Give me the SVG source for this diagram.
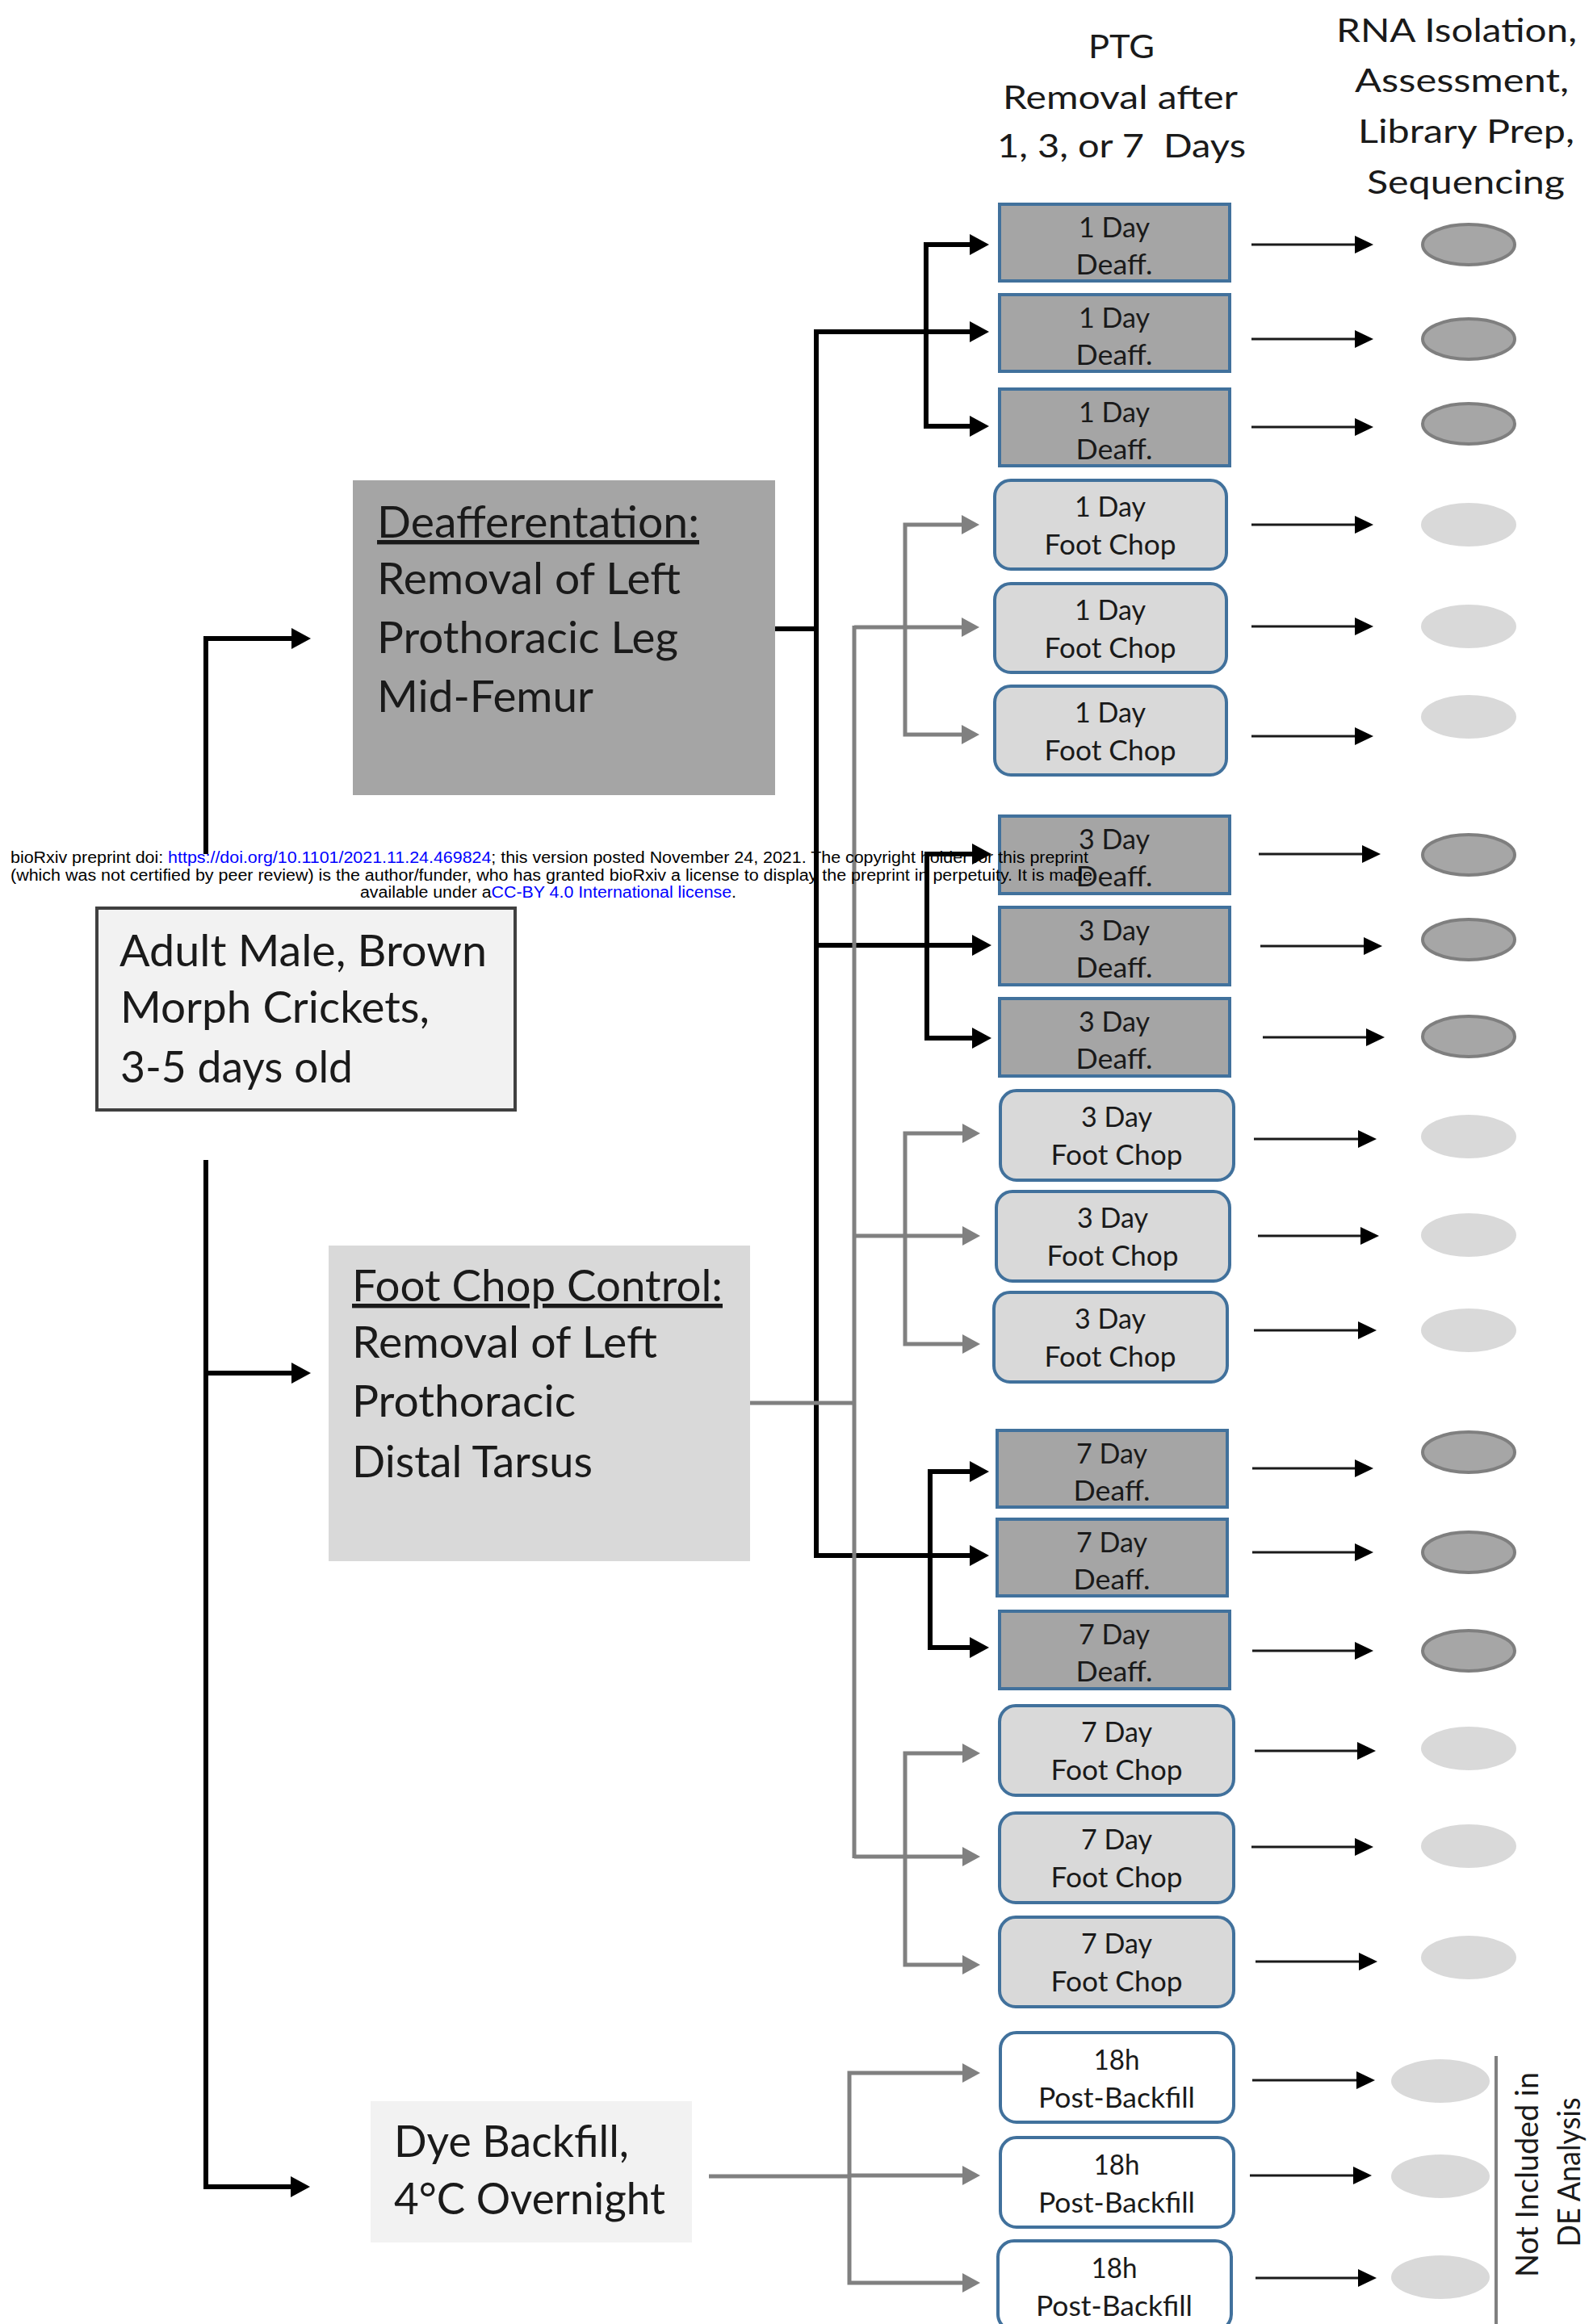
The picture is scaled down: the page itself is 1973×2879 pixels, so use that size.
<svg xmlns="http://www.w3.org/2000/svg" width="1973" height="2879" viewBox="0 0 1973 2879">
<style>
.t{font-family:Lato,"Open Sans","Liberation Sans",sans-serif;fill:#1a1a1a}
.big{font-size:54px}
.hdr{font-size:40px}
.bx{font-size:34px;text-anchor:middle}
.nt{font-size:39px;text-anchor:middle}
.deaff{fill:#a5a5a5;stroke:#41719c;stroke-width:4}
.fc{fill:#d9d9d9;stroke:#41719c;stroke-width:4}
.bf{fill:#ffffff;stroke:#41719c;stroke-width:4}
.ed{fill:#a6a6a6;stroke:#7f7f7f;stroke-width:4}
.el{fill:#d9d9d9}
.k{stroke:#000;stroke-width:6;fill:none}
.g{stroke:#808080;stroke-width:5;fill:none}
.th{stroke:#1a1a1a;stroke-width:3;fill:none}
.wm{font-family:"Liberation Sans",Arial,sans-serif;font-size:20px;fill:#000}
.lnk{fill:#0000ff}
</style>
<defs>
<marker id="ak" markerUnits="userSpaceOnUse" markerWidth="24" markerHeight="26" refX="0" refY="13" orient="auto-start-reverse"><path d="M0,0 L24,13 L0,26 Z" fill="#000"/></marker>
<marker id="ag" markerUnits="userSpaceOnUse" markerWidth="22" markerHeight="24" refX="0" refY="12" orient="auto-start-reverse"><path d="M0,0 L22,12 L0,24 Z" fill="#808080"/></marker>
<marker id="at" markerUnits="userSpaceOnUse" markerWidth="23" markerHeight="22" refX="0" refY="11" orient="auto"><path d="M0,0 L23,11 L0,22 Z" fill="#000"/></marker>
</defs>
<rect width="1973" height="2879" fill="#fff"/>

<g id="header">
<text class="t hdr" x="1348" y="72" textLength="82" lengthAdjust="spacingAndGlyphs">PTG</text>
<text class="t hdr" x="1242" y="135" textLength="291" lengthAdjust="spacingAndGlyphs">Removal after</text>
<text class="t hdr" x="1235" y="195" xml:space="preserve" textLength="308" lengthAdjust="spacingAndGlyphs">1, 3, or 7  Days</text>
<text class="t hdr" x="1655" y="52" textLength="298" lengthAdjust="spacingAndGlyphs">RNA Isolation,</text>
<text class="t hdr" x="1678" y="114" textLength="265" lengthAdjust="spacingAndGlyphs">Assessment,</text>
<text class="t hdr" x="1682" y="177" textLength="268" lengthAdjust="spacingAndGlyphs">Library Prep,</text>
<text class="t hdr" x="1693" y="240" textLength="245" lengthAdjust="spacingAndGlyphs">Sequencing</text>
</g>

<g id="adult">
<rect x="120" y="1125" width="518" height="250" fill="#f2f2f2" stroke="#404040" stroke-width="4"/>
<text class="t big" x="148" y="1197" textLength="455" lengthAdjust="spacingAndGlyphs">Adult Male, Brown</text>
<text class="t big" x="149" y="1267" textLength="383" lengthAdjust="spacingAndGlyphs">Morph Crickets,</text>
<text class="t big" x="149" y="1341" textLength="288" lengthAdjust="spacingAndGlyphs">3-5 days old</text>
</g>

<g id="deafferentation">
<rect x="437" y="595" width="523" height="390" fill="#a5a5a5"/>
<text class="t big" x="467" y="666" text-decoration="underline" textLength="399" lengthAdjust="spacingAndGlyphs">Deafferentation:</text>
<text class="t big" x="467" y="736" textLength="376" lengthAdjust="spacingAndGlyphs">Removal of Left</text>
<text class="t big" x="467" y="809" textLength="373" lengthAdjust="spacingAndGlyphs">Prothoracic Leg</text>
<text class="t big" x="467" y="882" textLength="268" lengthAdjust="spacingAndGlyphs">Mid-Femur</text>
</g>

<g id="footchop-control">
<rect x="407" y="1543" width="522" height="391" fill="#d9d9d9"/>
<text class="t big" x="436" y="1612" text-decoration="underline" textLength="459" lengthAdjust="spacingAndGlyphs">Foot Chop Control:</text>
<text class="t big" x="436" y="1682" textLength="378" lengthAdjust="spacingAndGlyphs">Removal of Left</text>
<text class="t big" x="436" y="1755" textLength="277" lengthAdjust="spacingAndGlyphs">Prothoracic</text>
<text class="t big" x="436" y="1830" textLength="298" lengthAdjust="spacingAndGlyphs">Distal Tarsus</text>
</g>

<g id="dye-backfill">
<rect x="459" y="2603" width="398" height="175" fill="#f2f2f2"/>
<text class="t big" x="488" y="2672" textLength="291" lengthAdjust="spacingAndGlyphs">Dye Backfill,</text>
<text class="t big" x="488" y="2743" textLength="336" lengthAdjust="spacingAndGlyphs">4°C Overnight</text>
</g>

<g id="d1a"><rect class="deaff" x="1238" y="253" width="285" height="95"/><text class="t bx" x="1380" y="294" textLength="88" lengthAdjust="spacingAndGlyphs">1 Day</text><text class="t bx" x="1380" y="340" textLength="95" lengthAdjust="spacingAndGlyphs">Deaff.</text></g>
<g id="d1b"><rect class="deaff" x="1238" y="365" width="285" height="95"/><text class="t bx" x="1380" y="406" textLength="88" lengthAdjust="spacingAndGlyphs">1 Day</text><text class="t bx" x="1380" y="452" textLength="95" lengthAdjust="spacingAndGlyphs">Deaff.</text></g>
<g id="d1c"><rect class="deaff" x="1238" y="482" width="285" height="95"/><text class="t bx" x="1380" y="523" textLength="88" lengthAdjust="spacingAndGlyphs">1 Day</text><text class="t bx" x="1380" y="569" textLength="95" lengthAdjust="spacingAndGlyphs">Deaff.</text></g>

<g id="f1a"><rect class="fc" x="1232" y="595" width="287" height="110" rx="20"/><text class="t bx" x="1375" y="640" textLength="88" lengthAdjust="spacingAndGlyphs">1 Day</text><text class="t bx" x="1375" y="687" textLength="163" lengthAdjust="spacingAndGlyphs">Foot Chop</text></g>
<g id="f1b"><rect class="fc" x="1232" y="723" width="287" height="110" rx="20"/><text class="t bx" x="1375" y="768" textLength="88" lengthAdjust="spacingAndGlyphs">1 Day</text><text class="t bx" x="1375" y="815" textLength="163" lengthAdjust="spacingAndGlyphs">Foot Chop</text></g>
<g id="f1c"><rect class="fc" x="1232" y="850" width="287" height="110" rx="20"/><text class="t bx" x="1375" y="895" textLength="88" lengthAdjust="spacingAndGlyphs">1 Day</text><text class="t bx" x="1375" y="942" textLength="163" lengthAdjust="spacingAndGlyphs">Foot Chop</text></g>

<g id="d3a"><rect class="deaff" x="1238" y="1011" width="285" height="96"/><text class="t bx" x="1380" y="1052" textLength="88" lengthAdjust="spacingAndGlyphs">3 Day</text><text class="t bx" x="1380" y="1098" textLength="95" lengthAdjust="spacingAndGlyphs">Deaff.</text></g>
<g id="d3b"><rect class="deaff" x="1238" y="1124" width="285" height="96"/><text class="t bx" x="1380" y="1165" textLength="88" lengthAdjust="spacingAndGlyphs">3 Day</text><text class="t bx" x="1380" y="1211" textLength="95" lengthAdjust="spacingAndGlyphs">Deaff.</text></g>
<g id="d3c"><rect class="deaff" x="1238" y="1237" width="285" height="96"/><text class="t bx" x="1380" y="1278" textLength="88" lengthAdjust="spacingAndGlyphs">3 Day</text><text class="t bx" x="1380" y="1324" textLength="95" lengthAdjust="spacingAndGlyphs">Deaff.</text></g>

<g id="f3a"><rect class="fc" x="1239" y="1351" width="289" height="111" rx="20"/><text class="t bx" x="1383" y="1396" textLength="88" lengthAdjust="spacingAndGlyphs">3 Day</text><text class="t bx" x="1383" y="1443" textLength="163" lengthAdjust="spacingAndGlyphs">Foot Chop</text></g>
<g id="f3b"><rect class="fc" x="1234" y="1476" width="289" height="111" rx="20"/><text class="t bx" x="1378" y="1521" textLength="88" lengthAdjust="spacingAndGlyphs">3 Day</text><text class="t bx" x="1378" y="1568" textLength="163" lengthAdjust="spacingAndGlyphs">Foot Chop</text></g>
<g id="f3c"><rect class="fc" x="1231" y="1601" width="289" height="111" rx="20"/><text class="t bx" x="1375" y="1646" textLength="88" lengthAdjust="spacingAndGlyphs">3 Day</text><text class="t bx" x="1375" y="1693" textLength="163" lengthAdjust="spacingAndGlyphs">Foot Chop</text></g>

<g id="d7a"><rect class="deaff" x="1235" y="1772" width="285" height="95"/><text class="t bx" x="1377" y="1813" textLength="88" lengthAdjust="spacingAndGlyphs">7 Day</text><text class="t bx" x="1377" y="1859" textLength="95" lengthAdjust="spacingAndGlyphs">Deaff.</text></g>
<g id="d7b"><rect class="deaff" x="1235" y="1882" width="285" height="95"/><text class="t bx" x="1377" y="1923" textLength="88" lengthAdjust="spacingAndGlyphs">7 Day</text><text class="t bx" x="1377" y="1969" textLength="95" lengthAdjust="spacingAndGlyphs">Deaff.</text></g>
<g id="d7c"><rect class="deaff" x="1238" y="1996" width="285" height="96"/><text class="t bx" x="1380" y="2037" textLength="88" lengthAdjust="spacingAndGlyphs">7 Day</text><text class="t bx" x="1380" y="2083" textLength="95" lengthAdjust="spacingAndGlyphs">Deaff.</text></g>

<g id="f7a"><rect class="fc" x="1238" y="2113" width="290" height="111" rx="20"/><text class="t bx" x="1383" y="2158" textLength="88" lengthAdjust="spacingAndGlyphs">7 Day</text><text class="t bx" x="1383" y="2205" textLength="163" lengthAdjust="spacingAndGlyphs">Foot Chop</text></g>
<g id="f7b"><rect class="fc" x="1238" y="2246" width="290" height="111" rx="20"/><text class="t bx" x="1383" y="2291" textLength="88" lengthAdjust="spacingAndGlyphs">7 Day</text><text class="t bx" x="1383" y="2338" textLength="163" lengthAdjust="spacingAndGlyphs">Foot Chop</text></g>
<g id="f7c"><rect class="fc" x="1238" y="2375" width="290" height="111" rx="20"/><text class="t bx" x="1383" y="2420" textLength="88" lengthAdjust="spacingAndGlyphs">7 Day</text><text class="t bx" x="1383" y="2467" textLength="163" lengthAdjust="spacingAndGlyphs">Foot Chop</text></g>

<g id="b1"><rect class="bf" x="1239" y="2518" width="289" height="111" rx="20"/><text class="t bx" x="1383" y="2564" textLength="57" lengthAdjust="spacingAndGlyphs">18h</text><text class="t bx" x="1383" y="2611" textLength="194" lengthAdjust="spacingAndGlyphs">Post-Backfill</text></g>
<g id="b2"><rect class="bf" x="1239" y="2648" width="289" height="111" rx="20"/><text class="t bx" x="1383" y="2694" textLength="57" lengthAdjust="spacingAndGlyphs">18h</text><text class="t bx" x="1383" y="2741" textLength="194" lengthAdjust="spacingAndGlyphs">Post-Backfill</text></g>
<g id="b3"><rect class="bf" x="1236" y="2776" width="289" height="111" rx="20"/><text class="t bx" x="1380" y="2822" textLength="57" lengthAdjust="spacingAndGlyphs">18h</text><text class="t bx" x="1380" y="2869" textLength="194" lengthAdjust="spacingAndGlyphs">Post-Backfill</text></g>

<g id="samples">
<ellipse class="ed" cx="1819" cy="303" rx="57" ry="25"/>
<ellipse class="ed" cx="1819" cy="420" rx="57" ry="25"/>
<ellipse class="ed" cx="1819" cy="525" rx="57" ry="25"/>
<ellipse class="el" cx="1819" cy="650" rx="59" ry="27"/>
<ellipse class="el" cx="1819" cy="776" rx="59" ry="27"/>
<ellipse class="el" cx="1819" cy="888" rx="59" ry="27"/>
<ellipse class="ed" cx="1819" cy="1059" rx="57" ry="25"/>
<ellipse class="ed" cx="1819" cy="1164" rx="57" ry="25"/>
<ellipse class="ed" cx="1819" cy="1284" rx="57" ry="25"/>
<ellipse class="el" cx="1819" cy="1408" rx="59" ry="27"/>
<ellipse class="el" cx="1819" cy="1530" rx="59" ry="27"/>
<ellipse class="el" cx="1819" cy="1648" rx="59" ry="27"/>
<ellipse class="ed" cx="1819" cy="1799" rx="57" ry="25"/>
<ellipse class="ed" cx="1819" cy="1923" rx="57" ry="25"/>
<ellipse class="ed" cx="1819" cy="2045" rx="57" ry="25"/>
<ellipse class="el" cx="1819" cy="2166" rx="59" ry="27"/>
<ellipse class="el" cx="1819" cy="2287" rx="59" ry="27"/>
<ellipse class="el" cx="1819" cy="2425" rx="59" ry="27"/>
<ellipse class="el" cx="1784" cy="2578" rx="61" ry="27"/>
<ellipse class="el" cx="1784" cy="2696" rx="61" ry="27"/>
<ellipse class="el" cx="1784" cy="2821" rx="61" ry="27"/>
</g>

<g id="not-included">
<line x1="1853" y1="2547" x2="1853" y2="2879" stroke="#7f7f7f" stroke-width="4"/>
<text class="t nt" transform="translate(1905,2694) rotate(-90)" textLength="254" lengthAdjust="spacingAndGlyphs">Not Included in</text>
<text class="t nt" transform="translate(1957,2691) rotate(-90)" textLength="185" lengthAdjust="spacingAndGlyphs">DE Analysis</text>
</g>

<g id="connectors">
<path class="k" d="M255,1058 V791 H361" marker-end="url(#ak)"/>
<path class="k" d="M255,1437 V2709 H360" marker-end="url(#ak)"/>
<path class="k" d="M255,1701 H361" marker-end="url(#ak)"/>
<path class="k" d="M960,779 H1011"/>
<path class="k" d="M1011,408 V1930"/>
<path class="k" d="M1011,411 H1201" marker-end="url(#ak)"/>
<path class="k" d="M1011,1171 H1204" marker-end="url(#ak)"/>
<path class="k" d="M1011,1927 H1201" marker-end="url(#ak)"/>
<path class="k" d="M1201,303 H1147 V528 H1201" marker-start="url(#ak)" marker-end="url(#ak)"/>
<path class="k" d="M1204,1058 H1148 V1286 H1204" marker-start="url(#ak)" marker-end="url(#ak)"/>
<path class="k" d="M1201,1823 H1152 V2041 H1201" marker-start="url(#ak)" marker-end="url(#ak)"/>

<path class="g" d="M929,1738 H1058"/>
<path class="g" d="M1058,775 V2302"/>
<path class="g" d="M1058,777 H1191" marker-end="url(#ag)"/>
<path class="g" d="M1058,1531 H1192" marker-end="url(#ag)"/>
<path class="g" d="M1058,2300 H1192" marker-end="url(#ag)"/>
<path class="g" d="M1191,650 H1121 V910 H1191" marker-start="url(#ag)" marker-end="url(#ag)"/>
<path class="g" d="M1192,1404 H1121 V1665 H1192" marker-start="url(#ag)" marker-end="url(#ag)"/>
<path class="g" d="M1192,2172 H1121 V2434 H1192" marker-start="url(#ag)" marker-end="url(#ag)"/>
<path class="g" d="M878,2696 H1052"/>
<path class="g" d="M1192,2568 H1052 V2828 H1192" marker-start="url(#ag)" marker-end="url(#ag)"/>
<path class="g" d="M1052,2695 H1192" marker-end="url(#ag)"/>

<path class="th" d="M1550,303 H1678" marker-end="url(#at)"/>
<path class="th" d="M1550,420 H1678" marker-end="url(#at)"/>
<path class="th" d="M1550,529 H1678" marker-end="url(#at)"/>
<path class="th" d="M1550,650 H1678" marker-end="url(#at)"/>
<path class="th" d="M1550,776 H1678" marker-end="url(#at)"/>
<path class="th" d="M1550,912 H1678" marker-end="url(#at)"/>
<path class="th" d="M1559,1058 H1687" marker-end="url(#at)"/>
<path class="th" d="M1561,1172 H1689" marker-end="url(#at)"/>
<path class="th" d="M1564,1285 H1692" marker-end="url(#at)"/>
<path class="th" d="M1553,1411 H1682" marker-end="url(#at)"/>
<path class="th" d="M1558,1531 H1685" marker-end="url(#at)"/>
<path class="th" d="M1553,1648 H1682" marker-end="url(#at)"/>
<path class="th" d="M1551,1819 H1678" marker-end="url(#at)"/>
<path class="th" d="M1551,1923 H1678" marker-end="url(#at)"/>
<path class="th" d="M1551,2045 H1678" marker-end="url(#at)"/>
<path class="th" d="M1554,2169 H1681" marker-end="url(#at)"/>
<path class="th" d="M1550,2288 H1678" marker-end="url(#at)"/>
<path class="th" d="M1555,2430 H1683" marker-end="url(#at)"/>
<path class="th" d="M1551,2577 H1680" marker-end="url(#at)"/>
<path class="th" d="M1548,2695 H1676" marker-end="url(#at)"/>
<path class="th" d="M1555,2822 H1682" marker-end="url(#at)"/>
</g>

<g id="biorxiv-notice">
<text class="wm" x="13" y="1069" textLength="1335" lengthAdjust="spacingAndGlyphs">bioRxiv preprint doi: <tspan class="lnk">https://doi.org/10.1101/2021.11.24.469824</tspan>; this version posted November 24, 2021. The copyright holder for this preprint</text>
<text class="wm" x="13" y="1091" textLength="1340" lengthAdjust="spacingAndGlyphs">(which was not certified by peer review) is the author/funder, who has granted bioRxiv a license to display the preprint in perpetuity. It is made</text>
<text class="wm" x="446" y="1112" textLength="466" lengthAdjust="spacingAndGlyphs">available under a<tspan class="lnk">CC-BY 4.0 International license</tspan>.</text>
</g>
</svg>
